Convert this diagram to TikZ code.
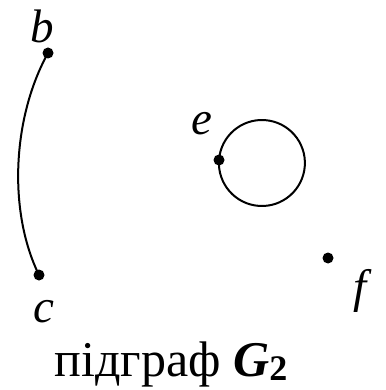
\documentclass[tikz,border=0pt]{standalone}
\usepackage{fontspec}
\setmainfont{Liberation Serif}[ItalicFont=* Italic,BoldFont=* Bold,BoldItalicFont=* Bold Italic]
\begin{document}
\begin{tikzpicture}[x=1pt,y=-1pt,
  vtx/.style={circle,fill=black,inner sep=0pt,minimum size=11pt},
  lbl/.style={anchor=base,inner sep=0pt,font=\fontsize{47}{50}\selectfont\itshape},
  edge/.style={line width=2pt}]
\useasboundingbox (0,0) rectangle (385,390);
\node[vtx] (b) at (48,53) {};
\node[vtx] (c) at (39,275) {};
\node[vtx] (e) at (219,160) {};
\node[vtx] (f) at (328,258) {};
\node[lbl] (lb) at (42,43) {b};
\node[lbl] (lc) at (44,322) {c};
\node[lbl] (le) at (202,135) {e};
\node[lbl] (lf) at (360,302) {f};
\draw[edge] (b.center) .. controls (12,118) and (8,212) .. (c.center);
\draw[edge] (e.center) arc[start angle=184, delta angle=360, radius=43];
\node[anchor=base,inner sep=0pt,font=\fontsize{50}{54}\selectfont] (cap) at (171,376)
  {підграф \textbf{\textit{G}}\raisebox{-4pt}{\fontsize{36}{38}\selectfont\textbf{2}}};
\end{tikzpicture}
\end{document}
